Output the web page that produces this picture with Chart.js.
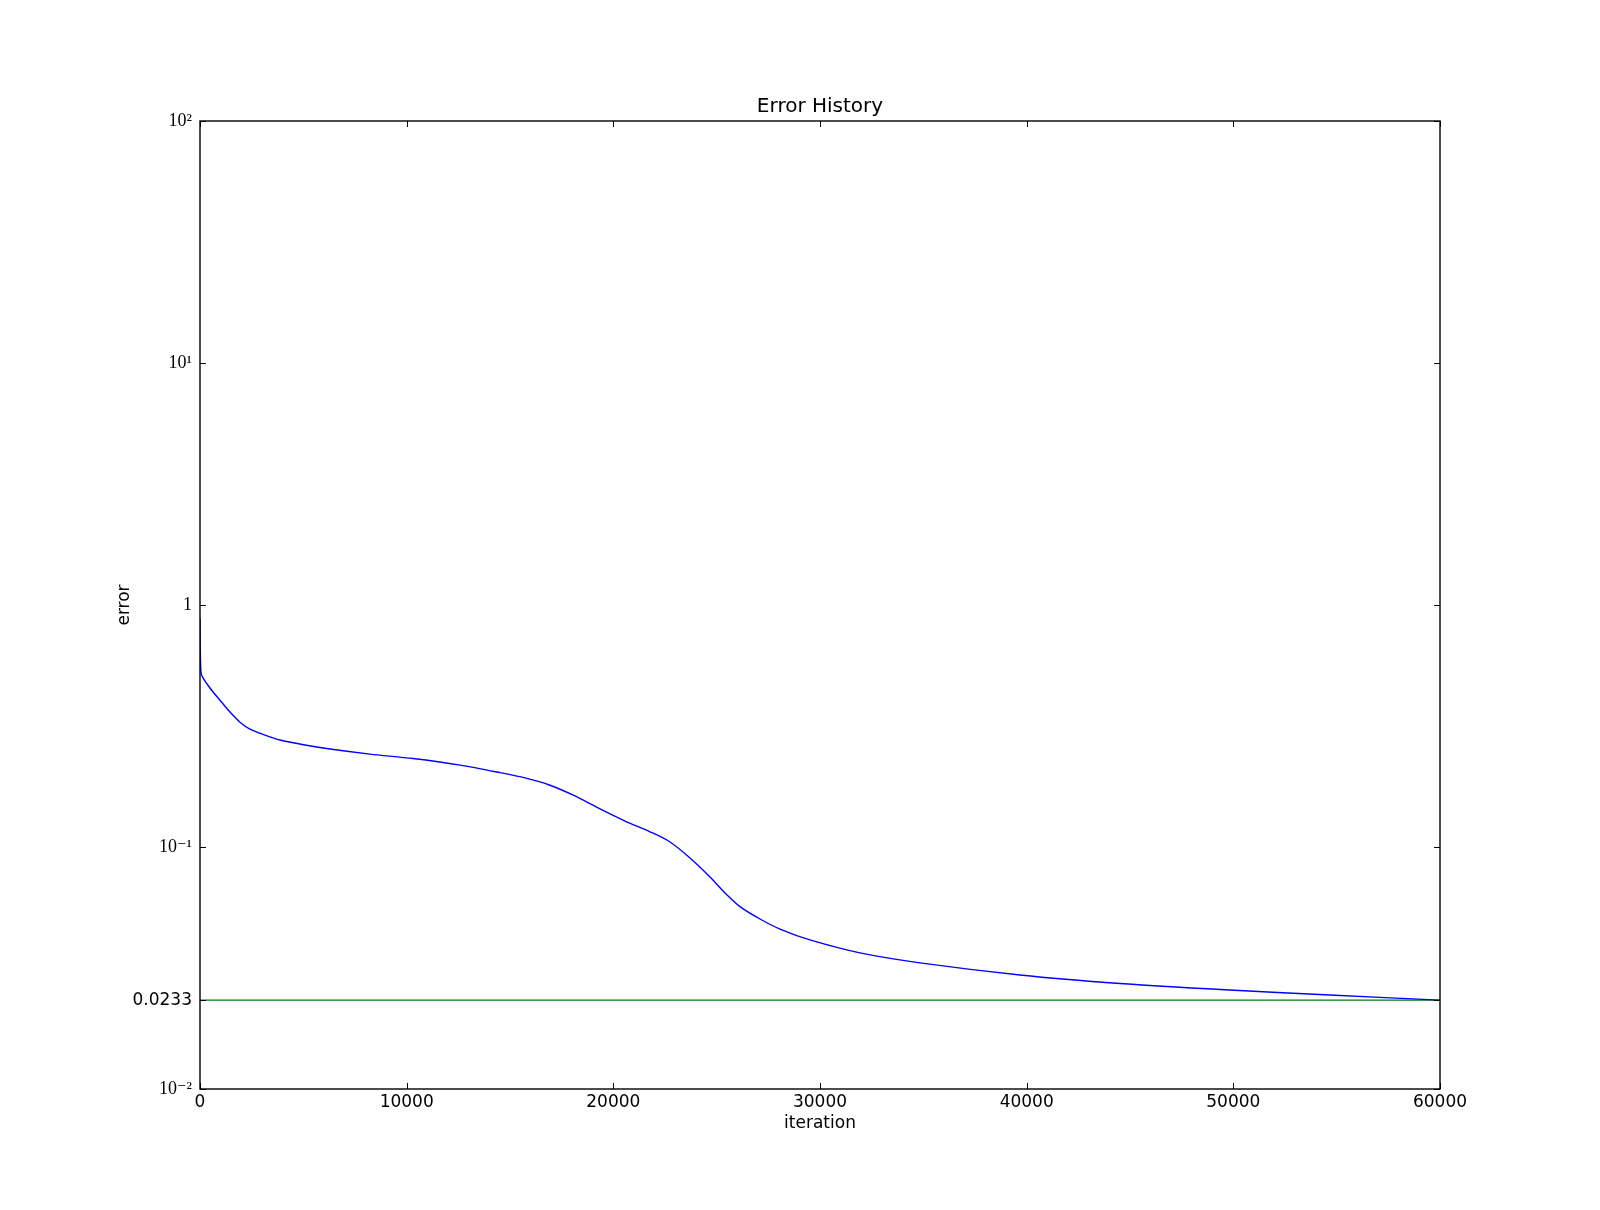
<!DOCTYPE html>
<html>
<head>
<meta charset="utf-8">
<script src="https://cdn.jsdelivr.net/npm/chart.js@4/dist/chart.umd.min.js"></script>
<style>
    html, body { margin: 0; padding: 0; background: #fff; }
    #wrap { width: 1600px; height: 1210px; }
</style>
</head>
<body>
<div id="wrap"><canvas id="error-chart" width="1600" height="1210"></canvas></div>
<script>
const iterations = [0, 48, 484, 968, 1452, 1935, 2419, 3145, 3871, 5081, 6290, 8226, 10306, 12581, 14516, 15726, 16935, 18145, 19355, 20565, 21774, 22742, 23710, 24677, 25403, 26129, 27097, 28065, 29516, 31935, 34839, 39677, 44516, 49597, 54677, 60000];
const errorValues = [0.88, 0.524, 0.454, 0.404, 0.361, 0.328, 0.307, 0.290, 0.2768, 0.264, 0.254, 0.242, 0.232, 0.218, 0.203, 0.193, 0.180, 0.1625, 0.1436, 0.128, 0.1156, 0.1049, 0.0901, 0.0752, 0.0646, 0.0567, 0.0504, 0.0458, 0.0413, 0.0365, 0.0332, 0.0296, 0.0273, 0.0257, 0.02445, 0.0233];
const thresholdValue = 0.0233;
const thresholdRange = [0, 60000];
const xTickValues = [0, 10000, 20000, 30000, 40000, 50000, 60000];
const yTickValues = [0.01, 0.0233, 0.1, 1, 10, 100];
const yTickLabels = ['10\u207B\u00B2', '0.0233', '10\u207B\u00B9', '1', '10\u00B9', '10\u00B2'];

const serifFont = { family: '"Liberation Serif", "DejaVu Serif", serif', size: 18 };
const sansFont = { family: '"DejaVu Sans", sans-serif', size: 17 };

// box round the plot and matplotlib-style ticks pointing inwards
const frameTicks = {
    id: 'frameTicks',
    afterDatasetsDraw(chart) {
        const { ctx, chartArea: a, scales } = chart;
        const len = 6;
        ctx.save();
        ctx.strokeStyle = '#000';
        ctx.lineWidth = 1;
        ctx.beginPath();
        scales.x.ticks.forEach(t => {
            const px = Math.round(scales.x.getPixelForValue(t.value)) + 0.5;
            ctx.moveTo(px, a.bottom); ctx.lineTo(px, a.bottom - len);
            ctx.moveTo(px, a.top); ctx.lineTo(px, a.top + len);
        });
        scales.y.ticks.forEach(t => {
            const py = Math.round(scales.y.getPixelForValue(t.value)) + 0.5;
            ctx.moveTo(a.left, py); ctx.lineTo(a.left + len, py);
            ctx.moveTo(a.right, py); ctx.lineTo(a.right - len, py);
        });
        ctx.stroke();
        ctx.lineWidth = 1.4;
        ctx.strokeRect(a.left, a.top, a.right - a.left, a.bottom - a.top);
        ctx.restore();
    }
};

const ctx = document.getElementById('error-chart').getContext('2d');
new Chart(ctx, {
    type: 'line',
    data: {
        datasets: [{
            label: 'error',
            data: iterations.map((it, i) => ({ x: it, y: errorValues[i] })),
            borderColor: '#0000ff',
            borderWidth: 1.4,
            pointRadius: 0,
            fill: false,
            tension: 0.3
        }, {
            label: 'target',
            data: thresholdRange.map(it => ({ x: it, y: thresholdValue })),
            borderColor: '#008000',
            borderWidth: 1.4,
            pointRadius: 0,
            fill: false
        }]
    },
    options: {
        responsive: false,
        animation: false,
        devicePixelRatio: 1,
        layout: { padding: { top: 95, right: 160, bottom: 0, left: 0 } },
        plugins: {
            legend: { display: false },
            tooltip: { enabled: false },
            title: {
                display: true,
                text: 'Error History',
                fullSize: false,
                color: '#000',
                font: { family: '"DejaVu Sans", sans-serif', size: 20, weight: 'normal' },
                padding: { top: 0, bottom: 2 }
            }
        },
        scales: {
            x: {
                type: 'linear',
                min: 0,
                max: 60000,
                afterBuildTicks: (scale) => { scale.ticks = xTickValues.map(v => ({ value: v })); },
                afterFit: (scale) => { scale.height = 121; },
                grid: { display: false },
                border: { display: false },
                ticks: {
                    color: '#000',
                    font: sansFont,
                    padding: -5,
                    maxRotation: 0,
                    autoSkip: false,
                    callback: (value) => String(value)
                },
                title: { display: true, text: 'iteration', color: '#000', font: sansFont, padding: 76 }
            },
            y: {
                type: 'logarithmic',
                min: 0.01,
                max: 100,
                afterBuildTicks: (scale) => { scale.ticks = yTickValues.map(v => ({ value: v })); },
                afterFit: (scale) => { scale.width = 200; },
                grid: { display: false },
                border: { display: false },
                ticks: {
                    color: '#000',
                    autoSkip: false,
                    padding: 0,
                    font: (c) => (c.tick && c.tick.value === thresholdValue) ? sansFont : serifFont,
                    callback: (value, index) => yTickLabels[index]
                },
                title: { display: true, text: 'error', color: '#000', font: sansFont, padding: 114 }
            }
        }
    },
    plugins: [frameTicks]
});
</script>
</body>
</html>
